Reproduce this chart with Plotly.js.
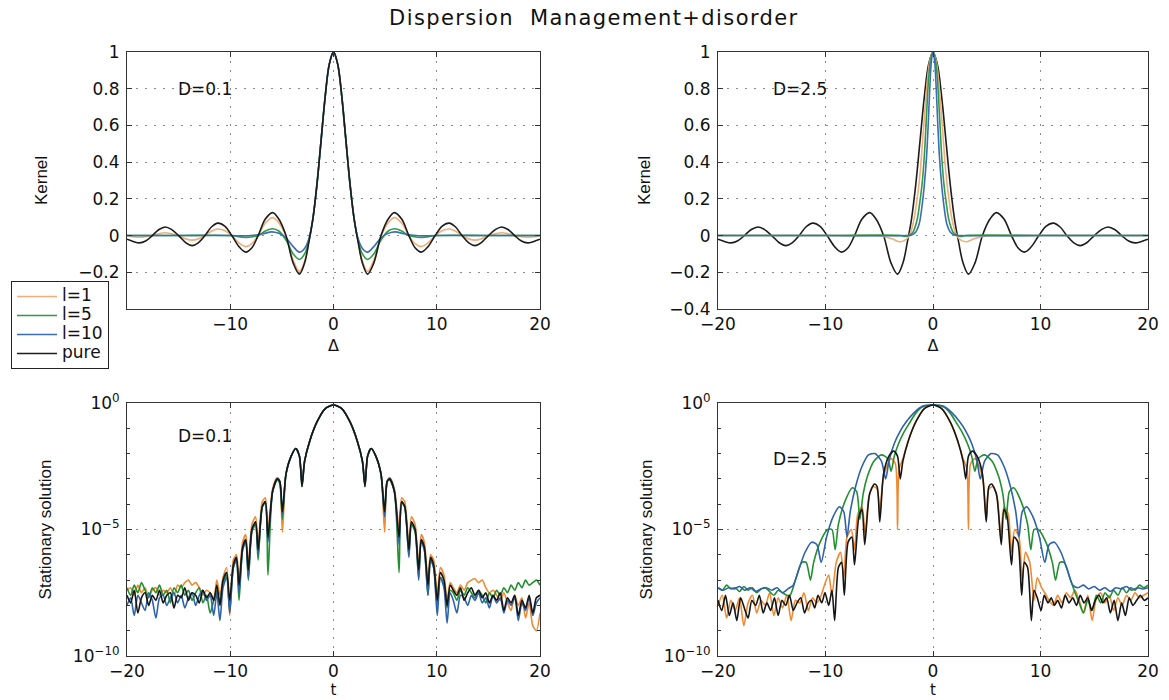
<!DOCTYPE html>
<html><head><meta charset="utf-8">
<script src="https://cdn.plot.ly/plotly-3.0.1.min.js"></script>
<style>
html,body{margin:0;padding:0;background:#fff}
#chart{width:1169px;height:700px}
.gtitle{letter-spacing:1.4px}
.legendtext{font-size:17px !important}
</style>
</head><body><div id="chart"></div>
<script>
// ---------------- DATA ----------------
const seriesNames = ['l=1', 'l=5', 'l=10', 'pure'];
const panelLabels = ['D=0.1', 'D=2.5'];
const linTicks = [-0.4, -0.2, 0, 0.2, 0.4, 0.6, 0.8, 1];
const linTickTextHidden = ['', '\u22120.2', '0', '0.2', '0.4', '0.6', '0.8', '1'];   // -0.4 sits under the legend
const linTickText = ['\u22120.4', '\u22120.2', '0', '0.2', '0.4', '0.6', '0.8', '1'];
const xTicks = [-20, -10, 0, 10, 20];
const xTickTextHidden = ['', '\u221210', '0', '10', '20'];   // -20 sits under the legend
const xTickText = ['\u221220', '\u221210', '0', '10', '20'];
const logTickVals = [1, 1e-5, 1e-10];
const logTickText = ['10<sup>0</sup>', '10<sup>\u22125</sup>', '10<sup>\u221210</sup>'];
const decadeVals = [1e-1,1e-2,1e-3,1e-4,1e-6,1e-7,1e-8,1e-9];

// Kernel, pure (same in both kernel panels)
const kernelX = [-20,-19.4,-18.8,-18.2,-17.55,-16.9,-16.3,-15.7,-15.0,-14.3,-13.7,-13.1,-12.45,-11.8,-11.2,-10.5,-9.85,-9.1,-8.5,-7.9,-7.3,-6.6,-5.9,-5.3,-4.6,-3.9,-3.3,-2.8,-2.4,-2.0,-1.6,-1.2,-0.8,-0.4,0,0.4,0.8,1.2,1.6,2.0,2.4,2.8,3.3,3.9,4.6,5.3,5.9,6.6,7.3,7.9,8.5,9.1,9.85,10.5,11.2,11.8,12.45,13.1,13.7,14.3,15.0,15.7,16.3,16.9,17.55,18.2,18.8,19.4,20];
const kernelPure = [-0.02,-0.032,-0.04,-0.03,0,0.033,0.047,0.034,0,-0.039,-0.055,-0.04,0,0.048,0.068,0.05,0,-0.064,-0.09,-0.066,0,0.09,0.125,0.09,0,-0.15,-0.21,-0.15,-0.04,0.09,0.28,0.52,0.76,0.935,1,0.935,0.76,0.52,0.28,0.09,-0.04,-0.15,-0.21,-0.15,0,0.09,0.125,0.09,0,-0.066,-0.09,-0.064,0,0.05,0.068,0.048,0,-0.04,-0.055,-0.039,0,0.034,0.047,0.033,0,-0.03,-0.04,-0.032,-0.02];
// Kernel D=0.1
const kernelL1_D01 = [0,-0.006,-0.009,-0.006,0,0.01,0.015,0.01,0,-0.018,-0.025,-0.018,0,0.025,0.036,0.026,0,-0.043,-0.06,-0.044,0,0.068,0.098,0.07,-0.005,-0.135,-0.195,-0.14,-0.038,0.09,0.28,0.52,0.76,0.935,1,0.935,0.76,0.52,0.28,0.09,-0.038,-0.14,-0.195,-0.135,-0.005,0.07,0.098,0.068,0,-0.044,-0.06,-0.043,0,0.026,0.036,0.025,0,-0.018,-0.025,-0.018,0,0.01,0.015,0.01,0,-0.006,-0.009,-0.006,0];
const kernelX_L5_D01 = [-20,-15,-10,-8.5,-7.3,-6.6,-5.9,-5.3,-4.6,-3.9,-3.3,-2.8,-2.4,-2.0,-1.6,-1.2,-0.8,-0.4,0,0.4,0.8,1.2,1.6,2.0,2.4,2.8,3.3,3.9,4.6,5.3,5.9,6.6,7.3,8.5,10,15,20];
const kernelL5_D01 = [0,0,0,-0.01,0,0.025,0.037,0.025,-0.025,-0.1,-0.13,-0.1,-0.03,0.09,0.28,0.52,0.76,0.935,1,0.935,0.76,0.52,0.28,0.09,-0.03,-0.1,-0.13,-0.1,-0.025,0.025,0.037,0.025,0,-0.01,0,0,0];
const kernelX_L10_D01 = [-20,-15,-10,-8,-6.8,-6.0,-5.3,-4.6,-3.9,-3.3,-2.8,-2.4,-2.0,-1.6,-1.2,-0.8,-0.4,0,0.4,0.8,1.2,1.6,2.0,2.4,2.8,3.3,3.9,4.6,5.3,6.0,6.8,8,10,15,20];
const kernelL10_D01 = [0,0,0,0,0.01,0.02,0.012,-0.012,-0.06,-0.09,-0.07,-0.02,0.09,0.28,0.52,0.76,0.935,1,0.935,0.76,0.52,0.28,0.09,-0.02,-0.07,-0.09,-0.06,-0.012,0.012,0.02,0.01,0,0,0,0];
// Kernel D=2.5
const kernelX_L1_D25 = [-20,-10,-5.5,-4.5,-3.7,-3.1,-2.6,-2.2,-1.8,-1.5,-1.2,-0.9,-0.6,-0.3,0,0.3,0.6,0.9,1.2,1.5,1.8,2.2,2.6,3.1,3.7,4.5,5.5,10,20];
const kernelL1_D25 = [0,0,0,-0.006,-0.02,-0.034,-0.025,0,0.08,0.19,0.34,0.57,0.79,0.95,1,0.95,0.79,0.57,0.34,0.19,0.08,0,-0.025,-0.034,-0.02,-0.006,0,0,0];
const kernelX_L5_D25 = [-20,-10,-3,-2.6,-2.3,-1.9,-1.5,-1.25,-1.0,-0.8,-0.6,-0.4,-0.2,0,0.2,0.4,0.6,0.8,1.0,1.25,1.5,1.9,2.3,2.6,3,10,20];
const kernelL5_D25 = [0,0,0,-0.005,0,0.015,0.08,0.17,0.29,0.44,0.66,0.86,0.965,1,0.965,0.86,0.66,0.44,0.29,0.17,0.08,0.015,0,-0.005,0,0,0];
const kernelX_L10_D25 = [-20,-10,-2.5,-2.0,-1.6,-1.3,-1.0,-0.8,-0.6,-0.45,-0.3,-0.15,0,0.15,0.3,0.45,0.6,0.8,1.0,1.3,1.6,2.0,2.5,10,20];
const kernelL10_D25 = [0,0,0,0.003,0.02,0.06,0.17,0.28,0.43,0.6,0.8,0.95,1,0.95,0.8,0.6,0.43,0.28,0.17,0.06,0.02,0.003,0,0,0];

// Stationary solution, values given as log10 exponents
const tGrid = [-20,-19.65,-19.3,-18.95,-18.6,-18.25,-17.9,-17.55,-17.2,-16.85,-16.5,-16.15,-15.8,-15.45,-15.1,-14.75,-14.4,-14.05,-13.7,-13.35,-13,-12.65,-12.3,-11.95,-11.6,
-11.3,-11,-10.7,-10.35,-10.05,-9.7,-9.4,-9.15,-8.8,-8.5,-8.25,-7.9,-7.55,-7.3,-6.9,-6.6,-6.35,-5.9,-5.45,-5.2,-4.95,-4.6,-4.1,-3.65,-3.3,-3.05,-2.8,-2.3,-1.6,-0.8,0,0.8,1.6,2.3,2.8,3.05,3.3,3.65,4.1,4.6,4.95,5.2,5.45,5.9,6.35,6.6,6.9,7.3,7.55,7.9,8.25,8.5,8.8,9.15,9.4,9.7,10.05,10.35,10.7,11,11.3,
11.6,11.95,12.3,12.65,13,13.35,13.7,14.05,14.4,14.75,15.1,15.45,15.8,16.15,16.5,16.85,17.2,17.55,17.9,18.25,18.6,18.95,19.3,19.65,20];
// D=0.1
const statPure_D01 = [-7.6,-7.9,-7.4,-8.3,-7.7,-7.5,-8.0,-7.6,-7.8,-7.4,-7.9,-7.6,-7.5,-8.1,-7.6,-7.7,-7.3,-7.8,-7.5,-7.6,-7.9,-7.4,-7.7,-7.5,-7.8,
-7.2,-8.0,-7.0,-6.7,-7.8,-6.4,-6.1,-7.2,-5.7,-5.4,-6.6,-5.0,-4.7,-5.8,-4.1,-3.9,-5.3,-3.5,-3.0,-3.1,-4.3,-2.8,-2.1,-1.8,-2.1,-3.3,-2.3,-1.5,-0.75,-0.22,-0.08,-0.22,-0.75,-1.5,-2.3,-3.3,-2.1,-1.8,-2.1,-2.8,-4.3,-3.1,-3.0,-3.5,-5.3,-3.9,-4.1,-5.8,-4.7,-5.0,-6.6,-5.4,-5.7,-7.2,-6.1,-6.4,-7.8,-6.7,-7.0,-8.0,-7.2,
-7.4,-7.6,-7.3,-7.8,-7.5,-7.3,-7.6,-7.4,-7.7,-7.5,-7.9,-7.6,-7.8,-7.5,-8.2,-7.7,-7.9,-7.6,-8.4,-7.8,-8.1,-7.6,-8.3,-7.7,-7.6];
const statL1_D01 = [-7.4,-7.3,-7.6,-7.2,-7.5,-7.3,-7.7,-7.4,-7.3,-7.6,-7.4,-7.5,-7.3,-7.6,-7.2,-7.3,-7.1,-7.0,-7.2,-7.1,-7.3,-7.6,-7.4,-7.5,-7.7,
-7.0,-7.6,-6.9,-6.5,-8.4,-6.2,-6.0,-7.0,-5.5,-5.2,-6.4,-4.8,-4.5,-5.6,-3.9,-3.75,-5.0,-3.4,-2.95,-3.1,-5.1,-2.8,-2.1,-1.8,-2.1,-3.2,-2.3,-1.5,-0.75,-0.22,-0.08,-0.22,-0.75,-1.5,-2.3,-3.2,-2.1,-1.8,-2.1,-2.8,-5.1,-3.1,-2.95,-3.4,-5.0,-3.75,-3.9,-5.6,-4.5,-4.8,-6.4,-5.2,-5.5,-7.0,-6.0,-6.2,-7.6,-6.5,-6.8,-7.8,-7.1,
-7.3,-7.5,-7.2,-7.4,-7.1,-7.0,-6.95,-7.1,-7.0,-7.3,-7.5,-7.4,-7.6,-7.8,-7.5,-7.9,-8.2,-7.6,-8.0,-7.7,-8.5,-7.9,-8.8,-9.0,-8.3];
const statL5_D01 = [-7.3,-7.6,-7.2,-7.5,-7.1,-7.4,-7.7,-7.3,-7.5,-7.2,-7.6,-7.4,-7.9,-7.3,-7.5,-7.2,-7.6,-7.4,-7.8,-7.5,-7.3,-7.9,-7.6,-8.3,-7.8,
-7.4,-7.9,-7.1,-6.8,-8.2,-6.5,-6.2,-7.8,-5.8,-5.5,-7.0,-5.1,-4.8,-6.2,-4.1,-3.95,-6.8,-3.5,-3.05,-3.2,-4.6,-2.8,-2.1,-1.8,-2.1,-3.3,-2.3,-1.5,-0.75,-0.22,-0.08,-0.22,-0.75,-1.5,-2.3,-3.3,-2.1,-1.8,-2.1,-2.8,-4.4,-3.1,-3.05,-3.5,-6.7,-3.95,-4.1,-6.0,-4.8,-5.1,-6.9,-5.5,-5.8,-7.6,-6.2,-6.5,-8.0,-6.9,-7.2,-8.1,-7.4,
-7.5,-7.8,-7.4,-7.6,-7.3,-7.5,-7.7,-7.4,-7.6,-7.9,-7.5,-7.7,-7.4,-7.6,-7.3,-7.5,-7.2,-7.4,-7.1,-7.3,-7.0,-7.2,-7.1,-7.0,-7.2];
const statL10_D01 = [-8.0,-7.7,-8.4,-7.6,-7.9,-8.2,-7.5,-7.8,-8.5,-7.7,-7.6,-8.0,-7.7,-7.5,-7.9,-7.6,-8.1,-7.7,-7.5,-8.0,-7.6,-7.4,-7.8,-7.6,-8.4,
-7.5,-8.6,-7.3,-6.9,-8.3,-6.5,-6.2,-7.5,-5.8,-5.45,-6.9,-5.0,-4.75,-6.0,-4.1,-3.9,-5.5,-3.5,-3.0,-3.1,-4.4,-2.8,-2.1,-1.8,-2.1,-3.2,-2.3,-1.5,-0.75,-0.22,-0.08,-0.22,-0.75,-1.5,-2.3,-3.2,-2.1,-1.8,-2.1,-2.8,-4.5,-3.1,-3.0,-3.5,-5.6,-3.9,-4.1,-6.1,-4.75,-5.0,-7.0,-5.45,-5.8,-7.6,-6.2,-6.5,-8.4,-6.9,-7.3,-8.7,-7.5,
-7.8,-8.3,-7.6,-7.7,-8.0,-7.6,-7.8,-7.5,-7.9,-7.7,-8.1,-7.6,-7.9,-7.7,-8.3,-7.8,-8.0,-7.7,-8.6,-7.9,-8.2,-7.7,-8.4,-7.9,-7.7];
// D=2.5
const statPure_D25 = [-7.8,-8.2,-7.6,-8.4,-7.9,-8.6,-7.7,-8.1,-8.5,-7.8,-8.0,-7.6,-8.3,-7.9,-8.2,-7.7,-8.4,-7.8,-8.0,-7.6,-8.2,-7.9,-7.7,-8.3,-7.9,
-7.8,-8.1,-7.6,-7.9,-7.5,-8.0,-7.4,-8.6,-6.5,-6.3,-7.6,-5.5,-5.3,-6.4,-4.5,-4.2,-5.6,-3.6,-3.2,-3.3,-4.7,-2.8,-2.1,-1.9,-2.1,-3.0,-2.3,-1.5,-0.75,-0.22,-0.08,-0.22,-0.75,-1.5,-2.3,-3.0,-2.1,-1.9,-2.1,-2.8,-4.7,-3.3,-3.2,-3.6,-5.6,-4.2,-4.5,-6.4,-5.3,-5.5,-7.6,-6.3,-6.5,-8.6,-7.4,-7.7,-8.2,-7.6,-7.9,-7.7,-8.0,
-7.8,-8.1,-7.6,-7.9,-7.7,-8.0,-7.6,-7.9,-7.7,-8.2,-7.8,-7.6,-7.9,-7.7,-8.3,-7.8,-8.6,-7.9,-8.4,-7.7,-8.0,-7.8,-7.6,-7.8,-7.7];
const tL1_D25 = [-20,-19.6,-19.2,-18.8,-18.4,-18,-17.6,-17.2,-16.8,-16.4,-16,-15.6,-15.2,-14.8,-14.4,-14,-13.6,-13.2,-12.8,-12.4,-12,-11.6,-11.2,-10.8,-10.4,
-10.1,-9.7,-9.4,-9.0,-8.6,-8.3,-8.0,-7.6,-7.3,-7.0,-6.6,-6.3,-6.0,-5.6,-5.2,-4.95,-4.7,-4.3,-3.9,-3.5,-3.3,-3.15,-2.8,-2.3,-1.6,-0.8,0,0.8,1.6,2.3,2.8,3.15,3.3,3.5,3.9,4.3,4.7,4.95,5.2,5.6,6.0,6.3,6.6,7.0,7.3,7.6,8.0,8.3,8.6,9.0,9.4,9.7,10.1,
10.4,10.8,11.2,11.6,12,12.4,12.8,13.2,13.6,14,14.4,14.8,15.2,15.6,16,16.4,16.8,17.2,17.6,18,18.4,18.8,19.2,19.6,20];
const statL1_D25 = [-8.0,-7.6,-8.5,-7.8,-8.2,-7.7,-8.8,-7.9,-7.6,-8.3,-7.8,-8.0,-7.5,-8.4,-7.7,-8.1,-7.6,-8.6,-7.8,-7.9,-7.5,-8.2,-7.7,-7.9,-7.6,
-7.2,-6.8,-7.6,-6.3,-5.9,-6.9,-5.3,-5.0,-5.8,-4.4,-4.1,-5.2,-3.8,-3.3,-3.4,-4.4,-3.2,-2.5,-2.2,-2.4,-5.0,-2.6,-2.2,-1.5,-0.75,-0.22,-0.08,-0.22,-0.75,-1.5,-2.2,-2.6,-5.0,-2.4,-2.2,-2.5,-3.2,-4.6,-3.4,-3.3,-3.8,-5.3,-4.1,-4.4,-5.9,-5.0,-5.3,-7.0,-5.9,-6.3,-7.8,-6.9,-7.3,
-7.5,-7.8,-8.0,-7.6,-7.9,-7.5,-7.7,-7.4,-7.8,-8.3,-7.6,-8.6,-7.7,-7.5,-7.9,-7.6,-8.2,-7.7,-8.0,-7.6,-7.8,-7.5,-7.7,-7.6,-7.5];
const tL5_D25 = [-20,-19.6,-19.2,-18.8,-18.4,-18,-17.6,-17.2,-16.8,-16.4,-16,-15.6,-15.2,-14.8,-14.4,-14,-13.6,
-13.3,-12.8,-12.2,-11.8,-11.4,-11.1,-10.5,-9.8,-9.4,-9.1,-8.8,-8.2,-7.5,-7.1,-6.8,-6.5,-6.1,-5.5,-4.8,-4.2,-3.9,-3.6,-3.2,-2.7,-2.2,-1.6,-1.0,0,1.0,1.6,2.2,2.7,3.2,3.6,3.9,4.2,4.8,5.5,6.1,6.5,6.8,7.1,7.5,8.2,8.8,9.1,9.4,9.8,10.5,11.1,11.4,11.8,12.2,12.8,13.3,
13.6,14,14.4,14.8,15.2,15.6,16,16.4,16.8,17.2,17.6,18,18.4,18.8,19.2,19.6,20];
const statL5_D25 = [-7.3,-7.4,-7.2,-7.35,-7.3,-7.45,-7.25,-7.4,-7.3,-7.5,-7.35,-7.3,-7.45,-7.6,-7.4,-7.5,-7.6,
-7.6,-7.0,-6.3,-6.3,-7.0,-6.3,-5.5,-5.0,-5.0,-5.8,-4.8,-3.9,-3.35,-3.5,-4.6,-3.6,-2.9,-2.3,-2.05,-2.2,-2.7,-2.1,-1.6,-1.15,-0.8,-0.4,-0.16,-0.08,-0.16,-0.4,-0.8,-1.15,-1.6,-2.1,-2.7,-2.2,-2.05,-2.3,-2.9,-3.6,-4.6,-3.5,-3.35,-3.9,-4.8,-5.8,-5.0,-5.0,-5.5,-6.3,-7.0,-6.3,-6.3,-7.0,-7.6,
-7.9,-8.3,-7.8,-8.2,-7.6,-7.9,-7.5,-7.7,-7.4,-7.6,-7.3,-7.5,-7.3,-7.4,-7.2,-7.3,-7.2];
const tL10_D25 = [-20,-19.5,-19,-18.5,-18,-17.5,-17,-16.5,-16,-15.5,-15,-14.5,-14,-13.5,
-13.0,-12.5,-11.9,-11.3,-10.8,-10.4,-9.9,-9.3,-8.7,-8.3,-8.0,-7.7,-7.2,-6.6,-6.0,-5.4,-4.8,-4.4,-4.1,-3.6,-3.0,-2.5,-1.8,-1.0,0,1.0,1.8,2.5,3.0,3.6,4.1,4.4,4.8,5.4,6.0,6.6,7.2,7.7,8.0,8.3,8.7,9.3,9.9,10.4,10.8,11.3,11.9,12.5,13.0,
13.5,14,14.5,15,15.5,16,16.5,17,17.5,18,18.5,19,19.5,20];
const statL10_D25 = [-7.3,-7.4,-7.3,-7.35,-7.25,-7.4,-7.3,-7.45,-7.35,-7.3,-7.4,-7.3,-7.5,-7.35,
-7.2,-6.6,-5.9,-5.5,-5.6,-6.3,-5.3,-4.5,-4.1,-4.3,-5.3,-4.3,-3.3,-2.5,-2.05,-2.0,-2.3,-3.0,-2.3,-1.6,-1.07,-0.75,-0.4,-0.13,-0.08,-0.13,-0.4,-0.75,-1.07,-1.6,-2.3,-3.0,-2.3,-2.0,-2.05,-2.5,-3.3,-4.3,-5.3,-4.3,-4.1,-4.5,-5.3,-6.3,-5.6,-5.5,-5.9,-6.6,-7.2,
-7.3,-7.2,-7.35,-7.25,-7.4,-7.3,-7.45,-7.3,-7.35,-7.25,-7.4,-7.3,-7.35,-7.3];

// ---------------- STYLE ----------------
const FONT = 'DejaVu Sans, Verdana, sans-serif';
const VFONT = 'Liberation Sans, Arial, Helvetica, sans-serif';
const topCol = {l1:'#f2ad7a', l5:'#2f9a48', l10:'#3a6db3', pure:'#1c1c1c'};
const botCol = {l1:'#ef8a33', l5:'#22902f', l10:'#2e62aa', pure:'#161616'};
const pow10 = a => a.map(e => Math.pow(10, e));

function tr(x, y, color, name, xa, ya, legend, smooth) {
  return {type:'scatter', mode:'lines', x:x, y:y, name:name, xaxis:xa, yaxis:ya,
    showlegend:legend, hoverinfo:'skip',
    line:{color:color, width:1.6, shape:'spline', smoothing:smooth}};
}

const traces = [
  tr(kernelX, kernelL1_D01, topCol.l1, seriesNames[0], 'x', 'y', true, 1),
  tr(kernelX_L5_D01, kernelL5_D01, topCol.l5, seriesNames[1], 'x', 'y', true, 1),
  tr(kernelX_L10_D01, kernelL10_D01, topCol.l10, seriesNames[2], 'x', 'y', true, 1),
  tr(kernelX, kernelPure, topCol.pure, seriesNames[3], 'x', 'y', true, 1),

  tr(kernelX, kernelPure, topCol.pure, seriesNames[3], 'x2', 'y2', false, 1),
  tr(kernelX_L1_D25, kernelL1_D25, topCol.l1, seriesNames[0], 'x2', 'y2', false, 1),
  tr(kernelX_L5_D25, kernelL5_D25, topCol.l5, seriesNames[1], 'x2', 'y2', false, 1),
  tr(kernelX_L10_D25, kernelL10_D25, topCol.l10, seriesNames[2], 'x2', 'y2', false, 1),

  tr(tGrid, pow10(statL1_D01), botCol.l1, seriesNames[0], 'x3', 'y3', false, 0.7),
  tr(tGrid, pow10(statL5_D01), botCol.l5, seriesNames[1], 'x3', 'y3', false, 0.7),
  tr(tGrid, pow10(statL10_D01), botCol.l10, seriesNames[2], 'x3', 'y3', false, 0.7),
  tr(tGrid, pow10(statPure_D01), botCol.pure, seriesNames[3], 'x3', 'y3', false, 0.7),

  tr(tL1_D25, pow10(statL1_D25), botCol.l1, seriesNames[0], 'x4', 'y4', false, 0.7),
  tr(tL5_D25, pow10(statL5_D25), botCol.l5, seriesNames[1], 'x4', 'y4', false, 0.7),
  tr(tL10_D25, pow10(statL10_D25), botCol.l10, seriesNames[2], 'x4', 'y4', false, 0.7),
  tr(tGrid, pow10(statPure_D25), botCol.pure, seriesNames[3], 'x4', 'y4', false, 0.7)
];

const W = 1169, H = 700;
const colL = [127/W, 540/W], colR = [718/W, 1148/W];
const rowT = [1-309/H, 1-52/H], rowB = [1-656/H, 1-403/H];
const tickFont = {family:FONT, size:17, color:'#111'};
const GRIDDASH = '2px,7px';

function common() {
  return {ticks:'inside', ticklen:5, tickcolor:'#333', showline:true, linecolor:'#333', linewidth:1, mirror:'ticks',
    showgrid:true, gridcolor:'#8c8c8c', griddash:GRIDDASH, gridwidth:1, zeroline:false,
    tickfont:tickFont};
}
function xa(domain, anchor, title, ticktext, tsize, standoff) {
  return Object.assign(common(), {domain:domain, anchor:anchor, range:[-20,20], tickmode:'array',
    tickvals:xTicks, ticktext:ticktext, ticklabelstandoff:0,
    title:{text:title, font:{family:FONT, size:tsize, color:'#111'}, standoff:standoff}});
}
function yLin(domain, anchor, standoff, ticktext) {
  return Object.assign(common(), {domain:domain, anchor:anchor, range:[-0.4,1], tickmode:'array',
    tickvals:linTicks, ticktext:ticktext, ticklabelstandoff:3,
    title:{text:'Kernel', font:{family:VFONT, size:17, color:'#111'}, standoff:standoff}});
}
function yLog(domain, anchor, standoff) {
  return Object.assign(common(), {domain:domain, anchor:anchor, type:'log', range:[-10,0], tickmode:'array',
    tickvals:logTickVals, ticktext:logTickText, ticklabelstandoff:3,
    minor:{tickmode:'array', tickvals:decadeVals, ticks:'inside', ticklen:3, tickcolor:'#333', showgrid:false},
    title:{text:'Stationary solution', font:{family:VFONT, size:17, color:'#111'}, standoff:standoff}});
}

const annFont = {family:FONT, size:17, color:'#111'};
const layout = {
  width:W, height:H, autosize:false,
  margin:{l:0, r:0, t:0, b:0, pad:0},
  paper_bgcolor:'#fff', plot_bgcolor:'#fff',
  title:{text:'Dispersion\u00a0 Management+disorder', x:0.508, xanchor:'center', y:1-18/H, yanchor:'middle',
    font:{family:FONT, size:21, color:'#111'}},
  xaxis:xa(colL, 'y', '\u0394', xTickTextHidden, 16, 6), yaxis:yLin(rowT, 'x', 26, linTickTextHidden),
  xaxis2:xa(colR, 'y2', '\u0394', xTickText, 16, 6), yaxis2:yLin(rowT, 'x2', 14, linTickText),
  xaxis3:xa(colL, 'y3', 't', xTickText, 15, 2), yaxis3:yLog(rowB, 'x3', 16),
  xaxis4:xa(colR, 'y4', 't', xTickText, 15, 2), yaxis4:yLog(rowB, 'x4', 6),
  showlegend:true,
  legend:{x:11/W, y:1-281/H, xanchor:'left', yanchor:'top', bgcolor:'#fff', bordercolor:'#222', borderwidth:1,
    font:{family:FONT, size:12, color:'#111'}, tracegroupgap:0, itemwidth:40, traceorder:'normal'},
  annotations:[
    {xref:'x', yref:'y', x:-12.4, y:0.8, text:panelLabels[0], showarrow:false, font:annFont},
    {xref:'x2', yref:'y2', x:-12.4, y:0.8, text:panelLabels[1], showarrow:false, font:annFont},
    {xref:'x3', yref:'y3', x:-12.4, y:-1.3, text:panelLabels[0], showarrow:false, font:annFont},
    {xref:'x4', yref:'y4', x:-12.4, y:-2.2, text:panelLabels[1], showarrow:false, font:annFont}
  ]
};

Plotly.newPlot('chart', traces, layout, {displayModeBar:false, staticPlot:true});
</script></body></html>
